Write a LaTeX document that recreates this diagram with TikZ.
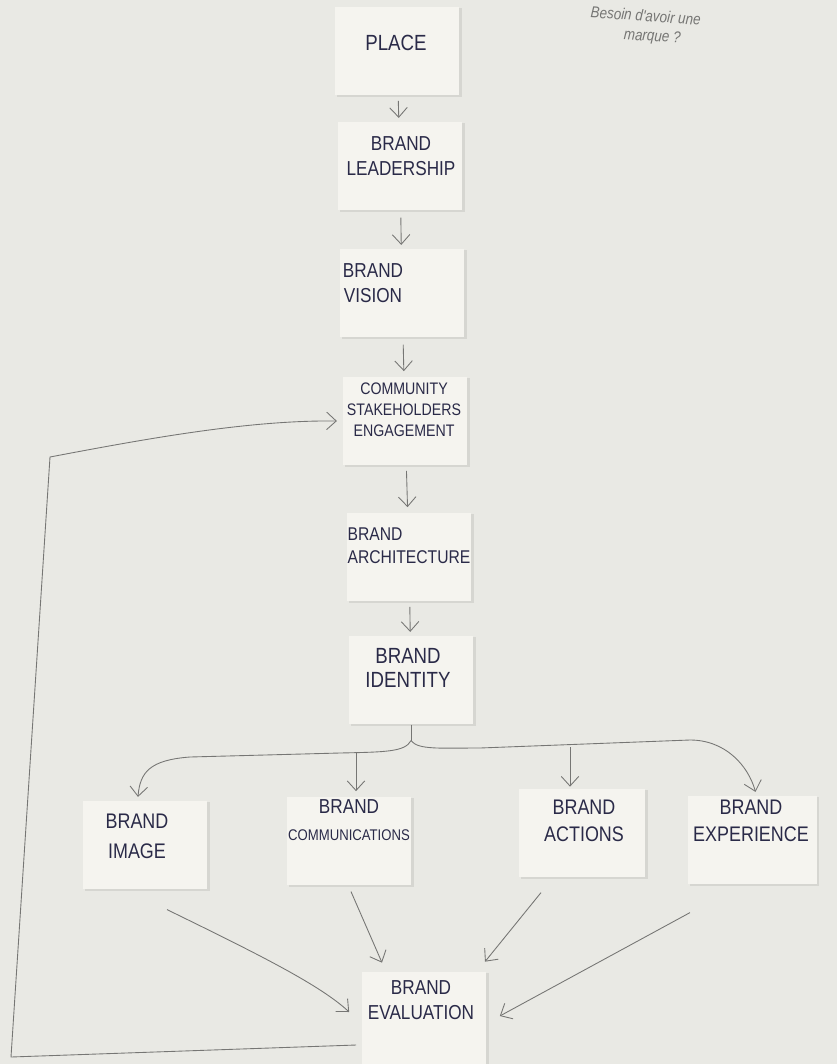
\documentclass[tikz,border=0pt]{standalone}
\usepackage{fontspec}
\usepackage{xcolor}
\usepackage{tikz}
\usetikzlibrary{arrows.meta,shapes,positioning,shadows}

\newfontfamily\handfont[FakeStretch=0.85]{Liberation Sans}

\definecolor{paper}{RGB}{233,233,228}
\definecolor{postit}{RGB}{245,244,239}
\definecolor{ink}{RGB}{42,42,72}
\definecolor{lead}{RGB}{118,118,116}

\tikzset{
	note/.style={fill=postit, minimum width=2.5cm, minimum height=1.77cm,
		drop shadow={shadow xshift=1.2pt, shadow yshift=-0.8pt, opacity=0.18}},
	inktext/.style={text=ink, align=center, inner sep=0pt,
		font=\handfont\fontsize{11.5}{14}\selectfont},
	scribble/.style={text=lead, align=center, inner sep=0pt,
		font=\handfont\itshape\fontsize{9}{11}\selectfont},
	pencil/.style={draw=lead, line width=0.5pt},
	pencilarrow/.style={pencil, -{Straight Barb[length=5.5pt, width=10pt]}},
}

\begin{document}
\begin{tikzpicture}[x=0.02cm, y=-0.02cm]
	% sheet of paper
	\fill[paper] (0,0) rectangle (837,1064);
	\useasboundingbox (0,0) rectangle (837,1064);

	% post-its, top to bottom
	\node[note] (place) at (397,51) {};
	\node[note] (leadership) at (400,166) {};
	\node[note] (vision) at (402,293) {};
	\node[note] (community) at (405,421) {};
	\node[note] (architecture) at (409,557) {};
	\node[note] (identity) at (411,680) {};
	\node[note] (image) at (145,845) {};
	\node[note] (comm) at (349,841) {};
	\node[note, minimum width=2.54cm] (actions) at (582,833) {};
	\node[note, minimum width=2.58cm] (experience) at (752,840) {};
	\node[note, minimum height=1.84cm] (evaluation) at (424,1018) {};

	% what is written on them
	\node[inktext, font=\handfont\fontsize{12.5}{14}\selectfont] (place-t) at (396,43) {PLACE};
	\node[inktext] (leadership-t) at (401,156) {BRAND\\LEADERSHIP};
	\node[inktext] (vision-t) at (373,283) {BRAND\\VISION};
	\node[inktext, font=\handfont\fontsize{9.5}{12}\selectfont] (community-t) at (404,410) {COMMUNITY\\STAKEHOLDERS\\ENGAGEMENT};
	\node[inktext, align=left, font=\handfont\fontsize{10.5}{13}\selectfont] (architecture-t) at (409,546) {BRAND\\ARCHITECTURE};
	\node[inktext, font=\handfont\fontsize{12.5}{14}\selectfont] (identity-t) at (408,668) {BRAND\\IDENTITY};
	\node[inktext, font=\handfont\fontsize{12}{17}\selectfont] (image-t) at (137,836) {BRAND\\IMAGE};
	\node[inktext, font=\handfont\fontsize{8.8}{15}\selectfont] (comm-t) at (349,820) {{\fontsize{11.5}{14}\selectfont BRAND}\\COMMUNICATIONS};
	\node[inktext, font=\handfont\fontsize{12}{15}\selectfont] (actions-t) at (584,821) {BRAND\\ACTIONS};
	\node[inktext, font=\handfont\fontsize{12}{15}\selectfont] (experience-t) at (751,821) {BRAND\\EXPERIENCE};
	\node[inktext, font=\handfont\fontsize{11.5}{14}\selectfont] (evaluation-t) at (421,1000) {BRAND\\EVALUATION};

	% pencil note in the corner
	\node[scribble, rotate=-4] (question) at (645,27) {Besoin d'avoir une\\ \quad marque ?};

	% main chain
	\draw[pencilarrow, shorten <=3pt, shorten >=2pt] (place) -- (leadership);
	\draw[pencilarrow, shorten <=4pt, shorten >=2pt] (leadership) -- (vision);
	\draw[pencilarrow, shorten <=4pt, shorten >=3pt] (vision) -- (community);
	\draw[pencilarrow, shorten <=3pt, shorten >=3pt] (community) -- (architecture);
	\draw[pencilarrow, shorten <=3pt, shorten >=2pt] (architecture) -- (identity);

	% identity splits into four
	\draw[pencil] (identity.south) -- ++(0,16) coordinate (split);
	\draw[pencilarrow] (split) .. controls (405,752) and (385,752) .. (340,753)
		-- (190,757) .. controls (150,760) and (140,772) .. ([xshift=-4pt,yshift=2pt]image.north);
	\draw[pencilarrow] (split) .. controls (418,750) and (440,748) .. (480,748)
		-- (690,740) .. controls (725,740) and (748,765) .. ([xshift=2pt,yshift=2pt]experience.north);
	\coordinate (tocomm) at (356,753);
	\coordinate (toactions) at (570,747);
	\draw[pencilarrow, shorten >=3pt] (tocomm) -- (tocomm |- comm.north);
	\draw[pencilarrow, shorten >=1pt] (toactions) -- (toactions |- actions.north);

	% everything ends up in the evaluation
	\draw[pencilarrow] ([shift={(22,20)}]image.south) .. controls (260,955) and (320,985) .. ([shift={(-12,-6)}]evaluation.west);
	\draw[pencilarrow] ([shift={(2,6)}]comm.south) -- ([shift={(-42,-9)}]evaluation.north);
	\draw[pencilarrow] ([shift={(-41,15)}]actions.south) -- ([shift={(61,-10)}]evaluation.north);
	\draw[pencilarrow] ([shift={(-62,28)}]experience.south) -- ([shift={(13,-2)}]evaluation.east);

	% and loops back to the community
	\draw[pencilarrow] ([shift={(-5,27)}]evaluation.west) -- (11,1057) -- (50,457)
		.. controls (150,438) and (250,420) .. ([xshift=-3pt]community.west);
\end{tikzpicture}
\end{document}
